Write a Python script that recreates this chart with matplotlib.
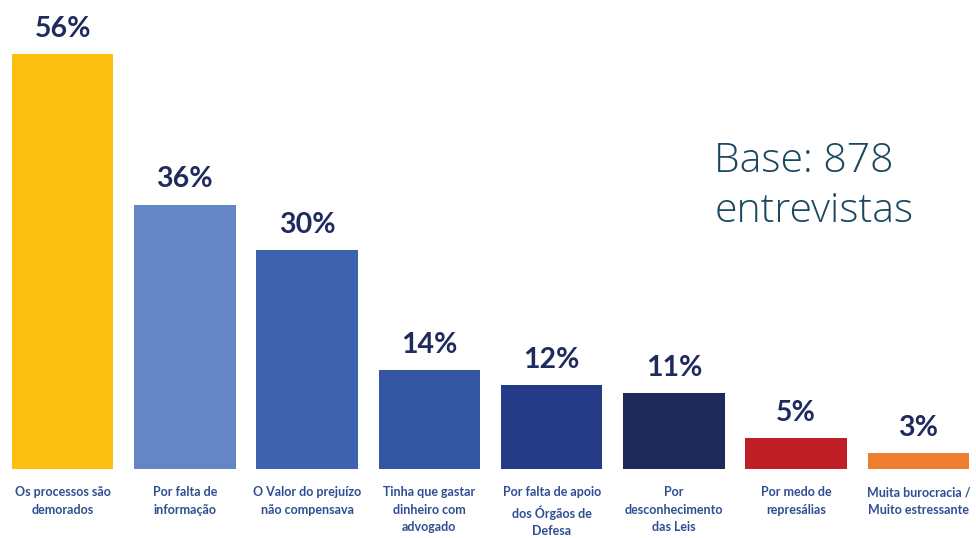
import matplotlib.pyplot as plt
import numpy as np

# motivos para não reclamar (% dos entrevistados)
categorias = [
    'Os processos são\ndemorados',
    'Por falta de\ninformação',
    'O Valor do prejuízo\nnão compensava',
    'Tinha que gastar\ndinheiro com\nadvogado',
    'Por falta de apoio\ndos Órgãos de\nDefesa',
    'Por\ndesconhecimento\ndas Leis',
    'Por medo de\nrepresálias',
    'Muita burocracia /\nMuito estressante',
]
valores = [56, 36, 30, 14, 12, 11, 5, 3]
cores = ['#FBBF10', '#6586C5', '#3F62AE', '#3456A2', '#263B88',
         '#1E2859', '#C01F28', '#EE7D30']

fig = plt.figure(figsize=(9.76, 5.38), dpi=100)
ax = fig.add_axes([0, 69 / 538, 1, 469 / 538])

x = np.arange(len(valores))
ax.bar(x, valores, width=0.83, color=cores)

y0 = 0.877
for xi, v in zip(x, valores):
    ax.text(xi, v + 1.6, f'{v}%', ha='center', va='bottom',
            fontsize=20.5, fontweight='bold', family='Lato', color='#1F2B5E')

for xi, c in zip(x, categorias):
    ax.text(xi, y0 - 2.3, c, ha='center', va='top', fontsize=9,
            fontweight='bold', family='Lato', color='#2F4E92',
            linespacing=1.55)

ax.text(0.732, 0.527, 'Base: 878\nentrevistas', transform=ax.transAxes,
        fontsize=29.5, family='Open Sans', fontweight='light', color='#1B4760',
        ha='left', va='baseline', linespacing=1.28)

ax.set_xlim(-0.512, 7.471)
ax.set_ylim(y0, y0 + 469 / 7.53)
ax.axis('off')

fig.savefig('out.png', dpi=100)
